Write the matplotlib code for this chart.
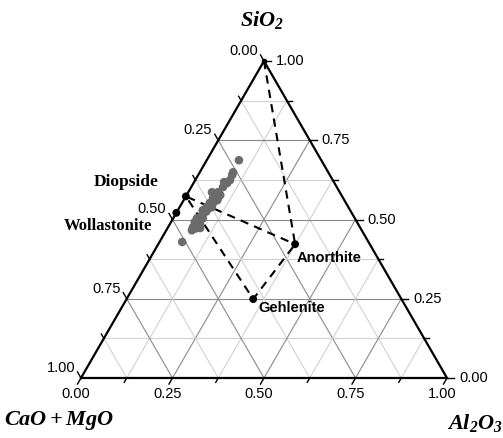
import numpy as np
import matplotlib
matplotlib.use("Agg")
import matplotlib.pyplot as plt

plt.rcParams['font.family'] = ['Liberation Sans', 'DejaVu Sans']
plt.rcParams['mathtext.fontset'] = 'custom'
plt.rcParams['mathtext.rm'] = 'Liberation Serif:italic:bold'
plt.rcParams['mathtext.it'] = 'Liberation Serif:italic:bold'
plt.rcParams['mathtext.bf'] = 'Liberation Serif:italic:bold'

# sample compositions (weight fractions): CaO+MgO, Al2O3, SiO2
sample_cao = [0.225, 0.260, 0.267, 0.281, 0.293, 0.311, 0.349, 0.333, 0.331, 0.356,
              0.347, 0.372, 0.387, 0.373, 0.403, 0.412, 0.431, 0.415, 0.443, 0.431,
              0.456, 0.464, 0.438, 0.509, 0.395, 0.362, 0.420, 0.300, 0.340,
              0.380, 0.425, 0.450]
sample_al = [0.088, 0.091, 0.093, 0.095, 0.092, 0.087, 0.065, 0.081, 0.092, 0.077,
             0.092, 0.076, 0.074, 0.088, 0.068, 0.074, 0.065, 0.081, 0.065, 0.081,
             0.068, 0.070, 0.089, 0.062, 0.080, 0.085, 0.072, 0.082, 0.090,
             0.083, 0.074, 0.078]
sample_si = [1 - c - a for c, a in zip(sample_cao, sample_al)]

# reference minerals
mineral_names = ["Diopside", "Wollastonite", "Anorthite", "Gehlenite"]
mineral_cao = [0.427, 0.479, 0.204, 0.405]
mineral_al = [0.000, 0.000, 0.374, 0.346]
mineral_si = [1 - c - a for c, a in zip(mineral_cao, mineral_al)]

# dashed tie lines: SiO2 apex -> Anorthite -> Gehlenite -> Diopside -> Anorthite
tie_cao = [0.0, 0.204, 0.405, 0.427, 0.204]
tie_al = [0.0, 0.374, 0.346, 0.000, 0.374]
tie_si = [1 - c - a for c, a in zip(tie_cao, tie_al)]

tick_vals = [0.0, 0.25, 0.5, 0.75, 1.0]
minor_vals = [0.125, 0.375, 0.625, 0.875]

H = np.sqrt(3) / 2
PX = 1 / 366.0  # one pixel in data units


def to_xy(al, si):
    al = np.asarray(al, dtype=float)
    si = np.asarray(si, dtype=float)
    return al + si / 2, si * H


fig = plt.figure(figsize=(5.03, 4.38), dpi=100)
ax = fig.add_axes([0, 0, 1, 1])
ax.set_xlim(-81 * PX, 1 + 56 * PX)
ax.set_ylim(-60 * PX, H + 61 * PX)
ax.axis('off')

# grid
for f in np.arange(0.125, 1.0, 0.125):
    major = abs(f / 0.25 - round(f / 0.25)) < 1e-6
    col = '#8a8a8a' if major else '#d2d2d2'
    # constant SiO2
    x, y = to_xy([0, 1 - f], [f, f])
    ax.plot(x, y, color=col, lw=0.8, zorder=1)
    # constant Al2O3
    x, y = to_xy([f, f], [0, 1 - f])
    ax.plot(x, y, color=col, lw=0.8, zorder=1)
    # constant CaO+MgO
    x, y = to_xy([1 - f, 0], [0, 1 - f])
    ax.plot(x, y, color=col, lw=0.8, zorder=1)

# triangle
x, y = to_xy([0, 1, 0, 0], [0, 0, 1, 0])
ax.plot(x, y, color='black', lw=1.6, zorder=3, solid_joinstyle='miter')

# ticks and tick labels
for f in tick_vals + minor_vals:
    L = 7 * PX if f in tick_vals else 5 * PX
    # bottom: Al2O3
    bx, by = to_xy(f, 0)
    ax.plot([bx, bx - 0.5 * L], [by, by - H * L], color='black', lw=1.0, zorder=3)
    # left: CaO+MgO
    lx, ly = to_xy(0, 1 - f)
    ax.plot([lx, lx - 0.5 * L], [ly, ly + H * L], color='black', lw=1.0, zorder=3)
    # right: SiO2
    rx, ry = to_xy(1 - f, f)
    ax.plot([rx, rx + L], [ry, ry], color='black', lw=1.0, zorder=3)
    if f in tick_vals:
        lab = f"{f:.2f}"
        ax.text(bx - 5 * PX, by - 16 * PX, lab, ha='center', va='center', fontsize=10.5)
        ax.text(lx - 6 * PX, ly + 10 * PX, lab, ha='right', va='center', fontsize=10.5)
        ax.text(rx + 12 * PX, ry, lab, ha='left', va='center', fontsize=10.5)

# tie lines
x, y = to_xy(tie_al, tie_si)
ax.plot(x, y, color='black', lw=1.5, dashes=(4, 3), zorder=4)

# samples
x, y = to_xy(sample_al, sample_si)
ax.scatter(x, y, s=38, color='#6b6b6b', edgecolors='none', zorder=5)

# minerals
x, y = to_xy(mineral_al, mineral_si)
ax.scatter(x, y, s=32, color='black', edgecolors='none', zorder=6)
ax.plot(*to_xy(0, 1), marker='o', ms=3, color='black', zorder=6)

offsets = {
    "Diopside": (-27, 14, 'right', 'Liberation Serif', 12.5),
    "Wollastonite": (-24, -13, 'right', 'Liberation Serif', 12),
    "Anorthite": (2, -14, 'left', 'Liberation Sans', 10.5),
    "Gehlenite": (5, -9, 'left', 'Liberation Sans', 10.5),
}
for name, xi, yi in zip(mineral_names, x, y):
    dx, dy, ha, fam, fs = offsets[name]
    ax.text(xi + dx * PX, yi + dy * PX, name, ha=ha, va='center',
            fontsize=fs, fontweight='bold', family=fam)

# axis titles
ax.text(0.5 - 2 * PX, H + 41 * PX, r'$SiO_2$', ha='center', va='center', fontsize=16)
ax.text(-77 * PX, -43 * PX, r'$CaO+MgO$', ha='left', va='center', fontsize=16)
ax.text(1 + 28 * PX, -45 * PX, r'$Al_2O_3$', ha='center', va='center', fontsize=16)

fig.savefig("out.png", dpi=100)
